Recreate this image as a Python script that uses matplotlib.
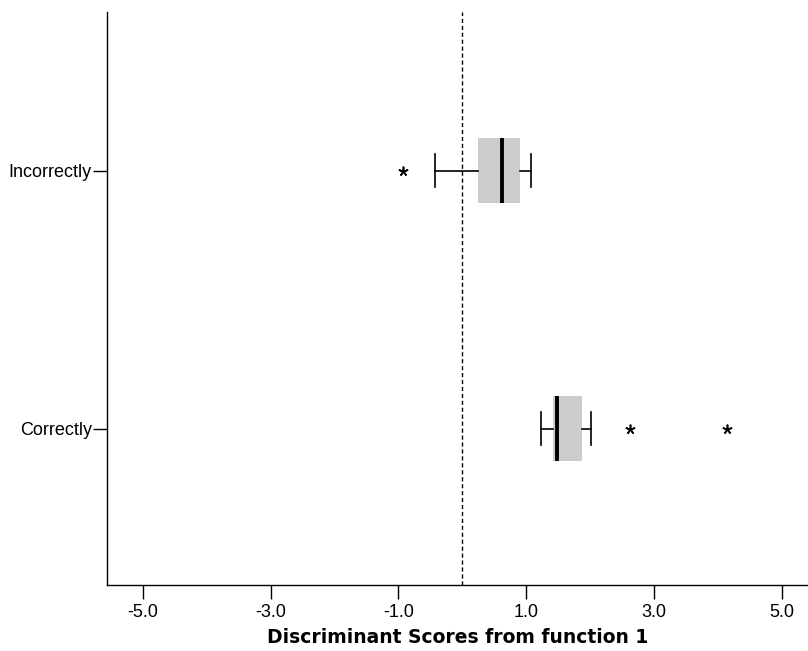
import matplotlib
matplotlib.use("Agg")
import matplotlib.pyplot as plt

# Data
groups     = ["Correctly", "Incorrectly"]
whislo     = [1.23, -0.43]
q1         = [1.42, 0.24]
medians    = [1.49, 0.62]
q3         = [1.87, 0.90]
whishi     = [2.01, 1.07]
outliers   = [[2.62, 4.14], [-0.93]]
xticks     = [-5.0, -3.0, -1.0, 1.0, 3.0, 5.0]
cutoff     = 0.0

BOX  = "#CCCCCC"
INK  = "#000000"

plt.rcParams["font.family"] = ["Liberation Sans", "DejaVu Sans"]

fig = plt.figure(figsize=(8.08, 6.51), dpi=100)
ax = fig.add_axes([0.1324, 0.1014, 0.8676, 0.8802])

stats = []
for i, g in enumerate(groups):
    stats.append(dict(label=g, whislo=whislo[i], q1=q1[i], med=medians[i],
                      q3=q3[i], whishi=whishi[i], fliers=outliers[i]))

ax.bxp(stats, positions=[1, 2], vert=False, widths=0.252,
       patch_artist=True, showfliers=True,
       boxprops=dict(facecolor=BOX, edgecolor="none", linewidth=0),
       medianprops=dict(color=INK, linewidth=2.8, solid_capstyle="butt"),
       whiskerprops=dict(color=INK, linewidth=1.2),
       capprops=dict(color=INK, linewidth=1.2),
       capwidths=0.128,
       flierprops=dict(marker=(5, 2, 0), markerfacecolor=INK,
                       markeredgecolor=INK, markersize=7,
                       markeredgewidth=1.2, linestyle="none"))

ax.axvline(cutoff, color=INK, linestyle=(0, (3, 2)), linewidth=1.0, zorder=0)

ax.set_xlim(-5.56, 5.41)
ax.set_ylim(0.395, 2.616)
ax.set_xticks(xticks)
ax.set_xticklabels([f"{v:.1f}" for v in xticks], fontsize=13)
ax.set_yticks([1, 2])
ax.set_yticklabels(groups, fontsize=13)
ax.tick_params(axis="both", direction="out", length=10, width=1.0, colors=INK)
ax.tick_params(axis="x", pad=4)
ax.tick_params(axis="y", pad=1)

for side in ["top", "right"]:
    ax.spines[side].set_visible(False)
for side in ["left", "bottom"]:
    ax.spines[side].set_linewidth(1.0)
    ax.spines[side].set_color(INK)

ax.set_xlabel("Discriminant Scores from function 1", fontsize=13.5,
              fontweight="bold", family=["DejaVu Sans"], labelpad=5)

fig.savefig("out.png", dpi=100, facecolor="white")
